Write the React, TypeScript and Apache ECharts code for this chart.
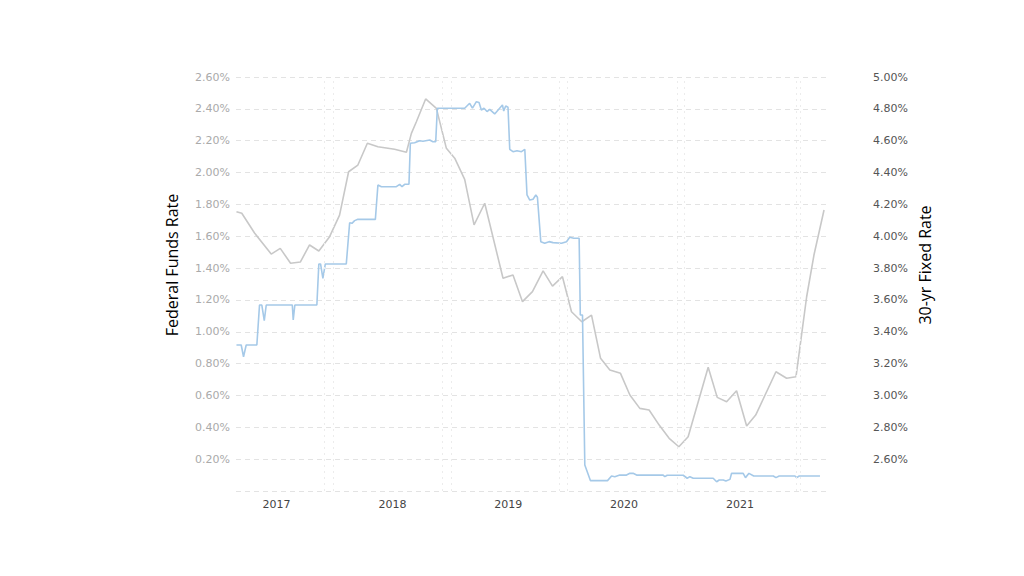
import React, { useEffect, useRef } from "react";
import * as echarts from "echarts";

// Federal Funds Rate (left axis) — x in decimal years
const fedX = [2016.654, 2016.695, 2016.715, 2016.738, 2016.83, 2016.853, 2016.873, 2016.894, 2016.911, 2017.136, 2017.144, 2017.158, 2017.348, 2017.365, 2017.38, 2017.4, 2017.421, 2017.602, 2017.631, 2017.651, 2017.674, 2017.702, 2017.853, 2017.875, 2017.905, 2018.034, 2018.063, 2018.083, 2018.106, 2018.143, 2018.155, 2018.192, 2018.235, 2018.264, 2018.322, 2018.35, 2018.374, 2018.388, 2018.624, 2018.667, 2018.691, 2018.725, 2018.748, 2018.768, 2018.791, 2018.817, 2018.84, 2018.883, 2018.95, 2018.961, 2018.978, 2018.998, 2019.013, 2019.041, 2019.076, 2019.114, 2019.143, 2019.162, 2019.186, 2019.214, 2019.238, 2019.252, 2019.281, 2019.315, 2019.352, 2019.387, 2019.46, 2019.503, 2019.531, 2019.566, 2019.612, 2019.622, 2019.641, 2019.661, 2019.71, 2019.857, 2019.892, 2019.92, 2019.963, 2020.021, 2020.05, 2020.078, 2020.108, 2020.337, 2020.352, 2020.372, 2020.51, 2020.545, 2020.568, 2020.597, 2020.769, 2020.799, 2020.821, 2020.856, 2020.879, 2020.914, 2020.928, 2021.028, 2021.048, 2021.078, 2021.119, 2021.288, 2021.311, 2021.339, 2021.475, 2021.49, 2021.512, 2021.691];
const fedRate = [0.917, 0.917, 0.843, 0.917, 0.917, 1.168, 1.168, 1.07, 1.168, 1.168, 1.074, 1.168, 1.168, 1.426, 1.426, 1.336, 1.426, 1.426, 1.685, 1.681, 1.698, 1.706, 1.706, 1.922, 1.911, 1.911, 1.926, 1.911, 1.926, 1.926, 2.184, 2.187, 2.2, 2.196, 2.204, 2.193, 2.193, 2.404, 2.404, 2.435, 2.404, 2.445, 2.44, 2.393, 2.404, 2.383, 2.397, 2.368, 2.424, 2.386, 2.418, 2.41, 2.146, 2.131, 2.137, 2.131, 2.146, 1.859, 1.827, 1.832, 1.859, 1.845, 1.566, 1.556, 1.566, 1.56, 1.556, 1.566, 1.593, 1.587, 1.587, 1.105, 1.105, 0.163, 0.065, 0.065, 0.094, 0.09, 0.1, 0.1, 0.111, 0.111, 0.1, 0.1, 0.09, 0.099, 0.099, 0.08, 0.09, 0.08, 0.08, 0.058, 0.069, 0.069, 0.063, 0.073, 0.111, 0.111, 0.084, 0.111, 0.094, 0.094, 0.084, 0.094, 0.094, 0.084, 0.094, 0.094];

// 30-yr Fixed Rate (right axis)
const mortX = [2016.654, 2016.7, 2016.81, 2016.954, 2017.032, 2017.121, 2017.205, 2017.285, 2017.365, 2017.458, 2017.544, 2017.622, 2017.702, 2017.784, 2017.875, 2018.019, 2018.121, 2018.164, 2018.207, 2018.287, 2018.38, 2018.466, 2018.538, 2018.624, 2018.705, 2018.797, 2018.955, 2019.041, 2019.123, 2019.209, 2019.301, 2019.382, 2019.468, 2019.546, 2019.635, 2019.719, 2019.797, 2019.877, 2019.969, 2020.05, 2020.136, 2020.216, 2020.303, 2020.389, 2020.473, 2020.553, 2020.726, 2020.804, 2020.885, 2020.971, 2021.058, 2021.136, 2021.311, 2021.403, 2021.484, 2021.576, 2021.639, 2021.726];
const mortRate = [4.154, 4.144, 4.02, 3.888, 3.924, 3.83, 3.838, 3.945, 3.907, 3.997, 4.133, 4.405, 4.447, 4.584, 4.562, 4.546, 4.527, 4.646, 4.719, 4.862, 4.803, 4.552, 4.49, 4.357, 4.071, 4.207, 3.736, 3.757, 3.589, 3.652, 3.782, 3.687, 3.746, 3.526, 3.463, 3.505, 3.233, 3.16, 3.139, 3.003, 2.919, 2.909, 2.814, 2.731, 2.678, 2.741, 3.177, 2.988, 2.961, 3.03, 2.808, 2.877, 3.149, 3.108, 3.118, 3.62, 3.882, 4.165];

const yearTicks = [2017, 2018, 2019, 2020, 2021];
const verticalGuides = [2017.406, 2017.492, 2018.434, 2018.512, 2019.445, 2019.514, 2020.464, 2020.516, 2021.492, 2021.518];

const X_MIN = 2016.65;
const X_MAX = 2021.743;

export default function App() {
  const ref = useRef<HTMLDivElement>(null);
  useEffect(() => {
    if (!ref.current) return;
    const chart = echarts.init(ref.current, undefined, { renderer: "svg" });
    const fedData = fedX.map((x, i) => [x, fedRate[i]]);
    const mortData = mortX.map((x, i) => [x, mortRate[i]]);
    chart.setOption({
      animation: false,
      backgroundColor: "#ffffff",
      grid: { left: 236, right: 198, top: 77, bottom: 85, containLabel: false },
      xAxis: {
        type: "value",
        min: X_MIN,
        max: X_MAX,
        axisLine: { show: false },
        axisTick: { show: false },
        splitLine: { show: false },
        axisLabel: {
          customValues: yearTicks,
          formatter: (v: number) => String(Math.round(v)),
          color: "#444444",
          fontFamily: "DejaVu Sans",
          fontSize: 11,
          margin: 8,
        },
      },
      yAxis: [
        {
          type: "value",
          min: 0,
          max: 2.6,
          interval: 0.2,
          axisLine: { show: false },
          axisTick: { show: false },
          splitLine: { show: true, lineStyle: { color: "#e3e3e3", type: [5, 4], width: 1 } },
          axisLabel: {
            formatter: (v: number) => (Math.abs(v) < 1e-6 ? "" : v.toFixed(2) + "%"),
            color: "#aaaaaa",
            fontFamily: "DejaVu Sans",
            fontSize: 11,
            margin: 6,
          },
        },
        {
          type: "value",
          min: 2.4,
          max: 5.0,
          interval: 0.2,
          position: "right",
          axisLine: { show: false },
          axisTick: { show: false },
          splitLine: { show: false },
          axisLabel: {
            formatter: (v: number) => (Math.abs(v - 2.4) < 1e-6 ? "" : v.toFixed(2) + "%"),
            color: "#555555",
            fontFamily: "DejaVu Sans",
            fontSize: 11,
            margin: 47,
          },
        },
      ],
      graphic: [
        {
          type: "text",
          x: 172,
          y: 265,
          rotation: Math.PI / 2,
          style: {
            text: "Federal Funds Rate",
            fill: "#000000",
            font: "16px 'Open Sans'",
            align: "center",
            verticalAlign: "middle",
          },
        },
        {
          type: "text",
          x: 925,
          y: 265,
          rotation: Math.PI / 2,
          style: {
            text: "30-yr Fixed Rate",
            fill: "#000000",
            font: "16px 'Open Sans'",
            align: "center",
            verticalAlign: "middle",
          },
        },
      ],
      series: [
        {
          name: "30-yr Fixed Rate",
          type: "line",
          yAxisIndex: 1,
          data: mortData,
          showSymbol: false,
          lineStyle: { color: "#c8c8c8", width: 1.6 },
          itemStyle: { color: "#c8c8c8" },
          z: 2,
          markLine: {
            silent: true,
            symbol: ["none", "none"],
            label: { show: false },
            lineStyle: { color: "#ececec", type: [2, 4], width: 1 },
            data: verticalGuides.map((v) => ({ xAxis: v })),
          },
        },
        {
          name: "Federal Funds Rate",
          type: "line",
          yAxisIndex: 0,
          data: fedData,
          showSymbol: false,
          lineStyle: { color: "#a5c9e8", width: 1.6 },
          itemStyle: { color: "#a5c9e8" },
          z: 3,
        },
      ],
    });
    return () => chart.dispose();
  }, []);
  return (
    <div
      ref={ref}
      style={{ position: "fixed", left: 0, top: 0, width: 1024, height: 576 }}
    />
  );
}
